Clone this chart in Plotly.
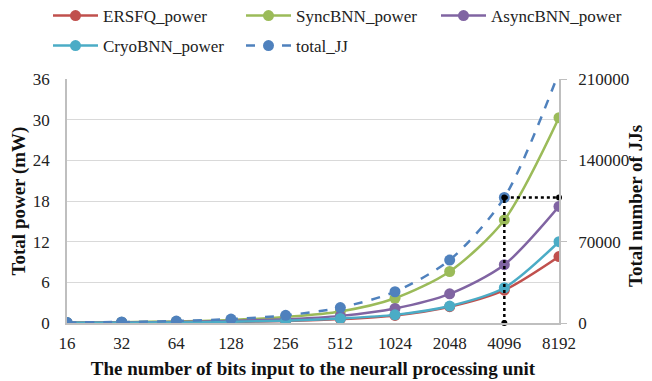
import plotly.graph_objects as go

bits = ["16", "32", "64", "128", "256", "512", "1024", "2048", "4096", "8192"]
ersfq_power = [0.02, 0.04, 0.08, 0.15, 0.3, 0.58, 1.12, 2.4, 4.85, 9.8]
syncbnn_power = [0.06, 0.12, 0.23, 0.45, 0.9, 1.7, 3.65, 7.6, 15.2, 30.3]
asyncbnn_power = [0.04, 0.08, 0.15, 0.3, 0.55, 1.05, 2.15, 4.3, 8.6, 17.2]
cryobnn_power = [0.02, 0.05, 0.09, 0.18, 0.35, 0.68, 1.2, 2.5, 5.2, 12.0]
total_jj = [420, 850, 1700, 3400, 6600, 13300, 26900, 54200, 108000, 216000]

FONT = "Liberation Serif, Times New Roman, serif"
W, H = 644, 373  # page body has an 8px margin inside the 652x381 window
ML, MR, MT, MB = 59, 93, 71, 58
TITLE_SIZE = 19

series = [
    ("ERSFQ_power", ersfq_power, "#C0504D", "legend"),
    ("SyncBNN_power", syncbnn_power, "#9BBB59", "legend2"),
    ("AsyncBNN_power", asyncbnn_power, "#8064A2", "legend3"),
    ("CryoBNN_power", cryobnn_power, "#4BACC6", "legend4"),
]

fig = go.Figure()
for name, vals, col, lg in series:
    fig.add_trace(go.Scatter(
        x=bits, y=vals, name=name, mode="lines+markers",
        line=dict(color=col, width=2.5, shape="spline", smoothing=0.8),
        marker=dict(color=col, size=11), legend=lg,
    ))

fig.add_trace(go.Scatter(
    x=bits, y=total_jj, name="total_JJ", mode="lines+markers", yaxis="y2",
    line=dict(color="#4F81BD", width=2.5, dash="dash", shape="spline", smoothing=0.8),
    marker=dict(color="#4F81BD", size=11), legend="legend5",
))

# dotted reference lines at 4096 bits
ref_idx = 8
fig.add_trace(go.Scatter(
    x=[bits[ref_idx], bits[ref_idx], bits[-1]],
    y=[0, total_jj[ref_idx], total_jj[ref_idx]],
    yaxis="y2", mode="lines+markers", showlegend=False,
    line=dict(color="black", width=2.5, dash="dot"),
    marker=dict(color="black", size=6), cliponaxis=False,
))

def leg(xpix, ypix):
    return dict(
        orientation="h", xref="container", yref="container",
        x=xpix / W, xanchor="left", y=1 - ypix / H, yanchor="middle",
        itemwidth=45,
        font=dict(family=FONT, size=17, color="#222222"), bgcolor="rgba(0,0,0,0)",
    )

plot_w = W - ML - MR
plot_h = H - MT - MB
fig.update_layout(
    width=W, height=H,
    margin=dict(l=ML, r=MR, t=MT, b=MB, autoexpand=False),
    plot_bgcolor="white", paper_bgcolor="white",
    font=dict(family=FONT, size=17, color="#222222"),
    xaxis=dict(
        type="category", range=[0, 9], showgrid=False,
        showline=True, linecolor="#BFBFBF", linewidth=1.5,
        ticks="", ticklabelstandoff=4,
        tickfont=dict(family=FONT, size=17, color="#222222"),
        title=dict(text="<b>The number of bits input to the neurall processing unit</b>",
                   font=dict(family=FONT, size=TITLE_SIZE, color="#111111"), standoff=10),
    ),
    yaxis=dict(
        range=[0, 36], tickvals=[0, 6, 12, 18, 24, 30, 36],
        showgrid=True, gridcolor="#D9D9D9", gridwidth=1.2,
        showline=True, linecolor="#BFBFBF", linewidth=1.5,
        zeroline=False, ticks="", ticklabelstandoff=12,
        tickfont=dict(family=FONT, size=17, color="#222222"),
        title=dict(text="<b>Total power (mW)</b>",
                   font=dict(family=FONT, size=TITLE_SIZE, color="#111111"), standoff=7),
    ),
    yaxis2=dict(
        overlaying="y", side="right", range=[0, 210000],
        tickvals=[0, 70000, 140000, 210000], tickformat="d", showgrid=False,
        showline=True, linecolor="#BFBFBF", linewidth=1.5,
        zeroline=False, ticks="outside", ticklen=6, tickcolor="#BFBFBF",
        ticklabelstandoff=8,
        tickfont=dict(family=FONT, size=17, color="#222222"),
    ),
    annotations=[dict(
        text="<b>Total number of JJs</b>", textangle=-90,
        xref="paper", yref="paper",
        x=1 + (627 - (W - MR)) / plot_w, y=1 - (198 - MT) / plot_h,
        xanchor="center", yanchor="middle", showarrow=False,
        font=dict(family=FONT, size=TITLE_SIZE, color="#111111"),
    )],
    legend=leg(40, 8),
    legend2=leg(233, 8),
    legend3=leg(428, 8),
    legend4=leg(40, 38),
    legend5=leg(233, 38),
)

fig.write_html("out.html")
